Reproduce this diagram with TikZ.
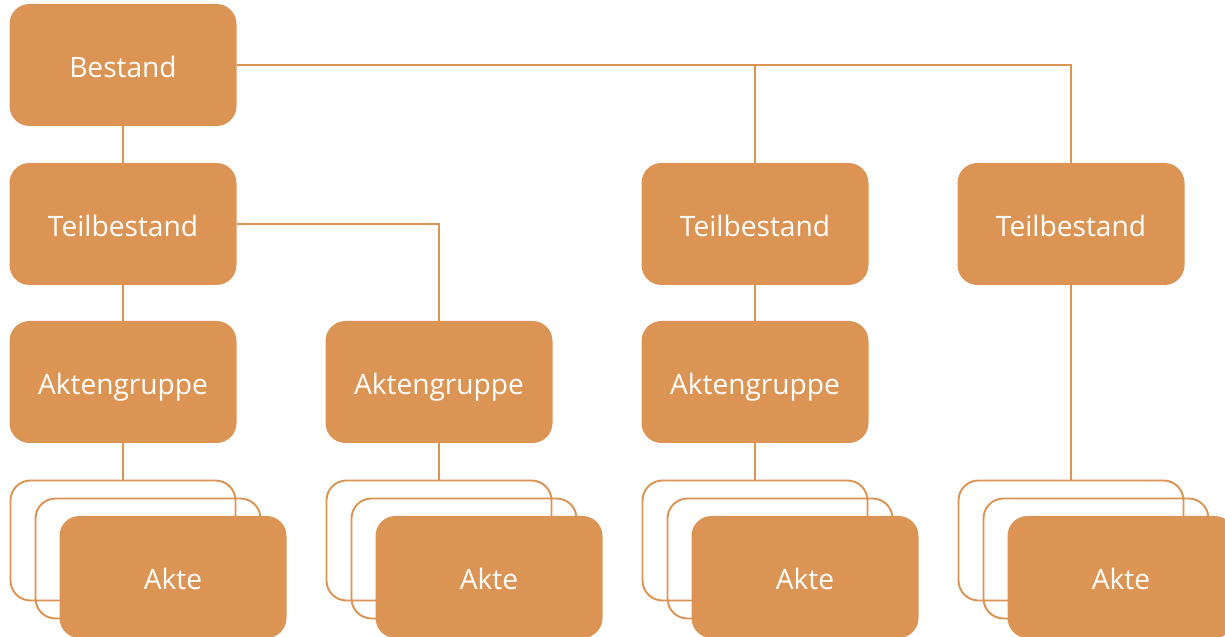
\documentclass[tikz,border=0pt]{standalone}
\usepackage{fontspec}
\setmainfont{Open Sans}
\definecolor{ocker}{HTML}{DC9454}
\begin{document}
\begin{tikzpicture}[
			box/.style={rectangle, rounded corners=0.4cm, fill=ocker, text=white, minimum width=4.54cm, minimum height=2.44cm, inner sep=0pt, text height=13.8pt, text depth=0pt, font=\fontsize{16}{19}\selectfont},
			blatt/.style={rectangle, rounded corners=0.4cm, draw=ocker, line width=1.1pt, minimum width=4.5cm, minimum height=2.4cm, inner sep=0pt},
			verbinder/.style={color=ocker, line width=1.1pt}]
			\useasboundingbox (0,0) rectangle (24.5,-12.74);
			% ebenen
			\node[box] (b) at (2.46, -1.30) {Bestand};
			\node[box] (t1) at (2.46, -4.48) {Teilbestand};
			\node[box] (t3) at (15.10, -4.48) {Teilbestand};
			\node[box] (t4) at (21.42, -4.48) {Teilbestand};
			\node[box] (g1) at (2.46, -7.64) {Aktengruppe};
			\node[box] (g2) at (8.78, -7.64) {Aktengruppe};
			\node[box] (g3) at (15.10, -7.64) {Aktengruppe};
			% akten, je drei blaetter
			\foreach \n/\x in {1/2.46, 2/8.78, 3/15.10, 4/21.42} {
				\node[blatt] (k\n) at (\x, -10.81) {};
				\node[blatt] (m\n) at (\x+0.5, -11.17) {};
				\node[box] (a\n) at (\x+1.0, -11.54) {Akte};
			}
			% verbindungen
			\draw[verbinder] (b) -- (t1);
			\draw[verbinder] (b.east) -| (t3.north);
			\draw[verbinder] (b.east) -| (t4.north);
			\draw[verbinder] (t1) -- (g1);
			\draw[verbinder] (t1.east) -| (g2.north);
			\draw[verbinder] (t3) -- (g3);
			\draw[verbinder] (g1) -- (k1);
			\draw[verbinder] (g2) -- (k2);
			\draw[verbinder] (g3) -- (k3);
			\draw[verbinder] (t4) -- (k4);
		\end{tikzpicture}
\end{document}
